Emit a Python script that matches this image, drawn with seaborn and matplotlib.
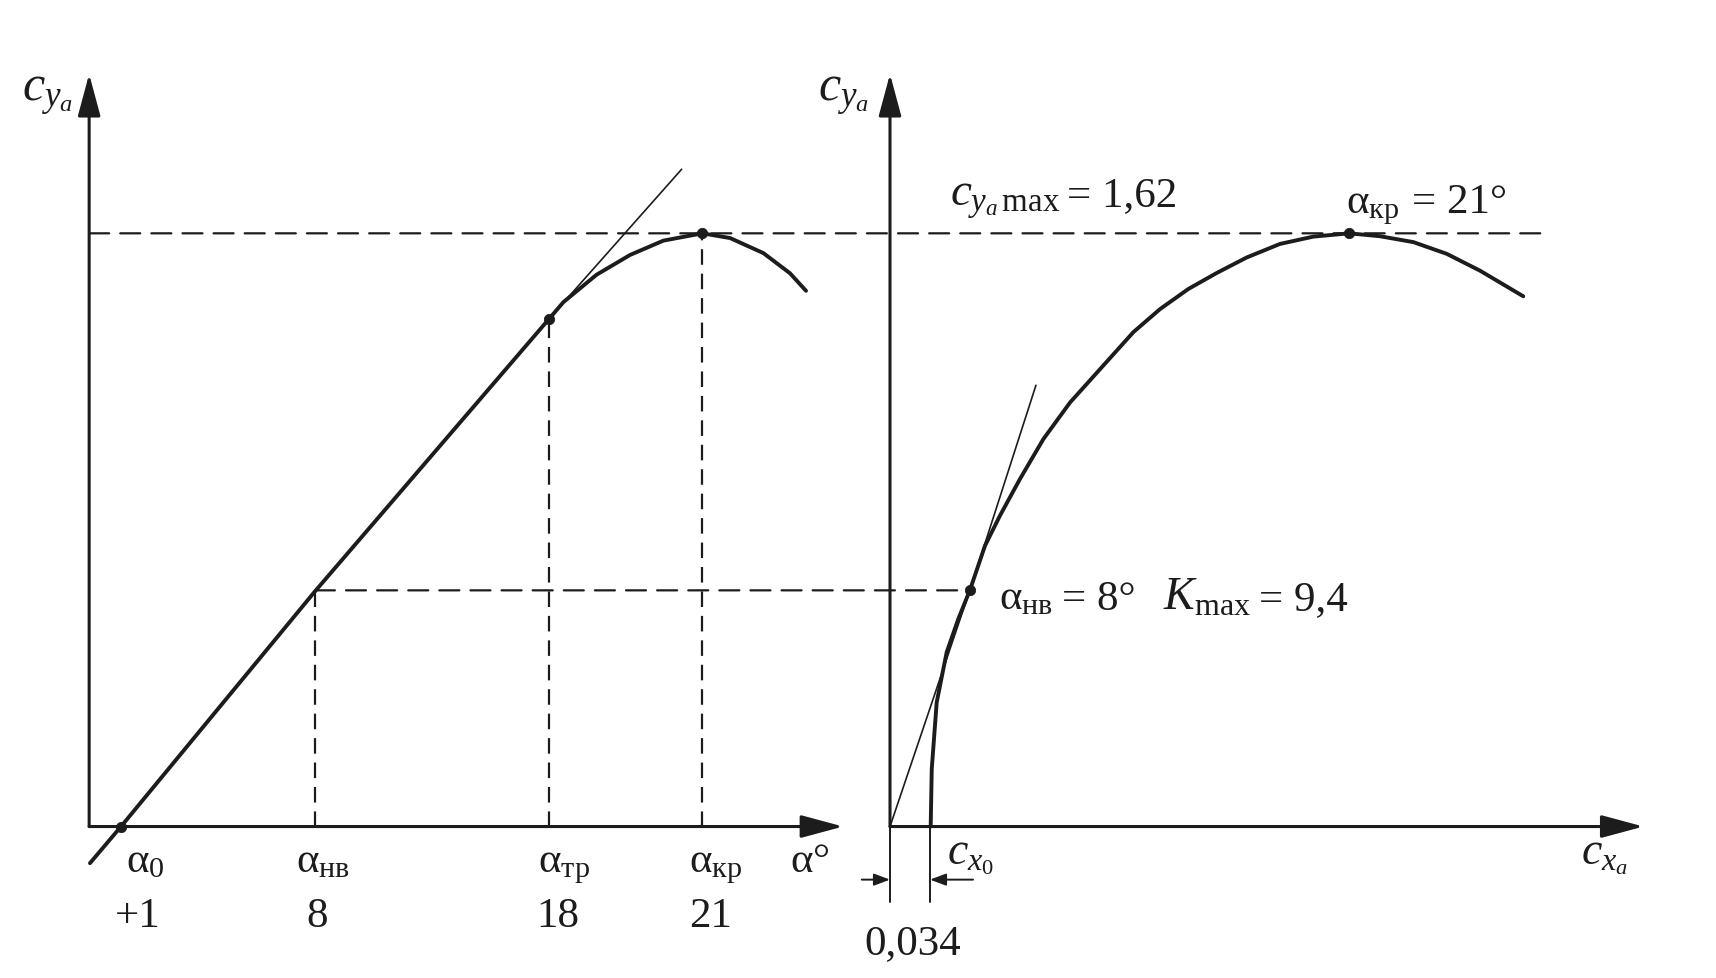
import numpy as np
import seaborn as sns
import matplotlib.pyplot as plt
from matplotlib.patches import ConnectionPatch

# left panel: c_ya(alpha), alpha axis is schematic (positions are drawing units)
alpha_line = [-0.12, 1.0, 8.0, 16.45]
cy_line = [-0.10, 0.0, 0.642, 1.386]
alpha_tan = [16.45, 21.24]
cy_tan = [1.386, 1.795]
alpha_curve = [16.45, 16.97, 18.17, 19.38, 20.58, 21.99, 22.99, 24.19, 25.15, 25.73]
cy_curve = [1.386, 1.432, 1.507, 1.561, 1.600, 1.620, 1.607, 1.566, 1.511, 1.463]
alpha_marks = [1.0, 8.0, 16.45, 21.99]
cy_marks = [0.0, 0.642, 1.386, 1.620]
alpha_names = [r'$\mathrm{α}_{\mathrm{0}}$', r'$\mathrm{α}_{\mathrm{нв}}$',
               r'$\mathrm{α}_{\mathrm{тр}}$', r'$\mathrm{α}_{\mathrm{кр}}$']
alpha_values = ['+1', '8', '18', '21']

# right panel: polar c_ya(c_xa)
cx_polar = [0.0346, 0.0355, 0.0397, 0.0482, 0.0581, 0.068, 0.0808, 0.0935, 0.1105, 0.1304,
            0.1531, 0.1786, 0.2069, 0.2296, 0.2537, 0.278, 0.3033, 0.3316, 0.36, 0.3906,
            0.4167, 0.445, 0.4734, 0.5017, 0.5385]
cy_polar = [0.0, 0.157, 0.339, 0.476, 0.567, 0.646, 0.767, 0.849, 0.949, 1.058,
            1.158, 1.249, 1.350, 1.413, 1.468, 1.512, 1.554, 1.591, 1.611, 1.620,
            1.612, 1.596, 1.564, 1.518, 1.448]
cx_tan = [0.0, 0.068, 0.1241]
cy_tan2 = [0.0, 0.646, 1.205]
cx0 = 0.034
cy_max = 1.62
cx_nv, cy_nv = 0.068, 0.645
cx_kr = 0.3906
K_max = 9.4

sns.set_style('white')
plt.rcParams['font.family'] = ['Liberation Serif', 'DejaVu Serif']
plt.rcParams['mathtext.fontset'] = 'custom'
plt.rcParams['mathtext.rm'] = 'Liberation Serif'
plt.rcParams['mathtext.it'] = 'Liberation Serif:italic'
plt.rcParams['mathtext.bf'] = 'Liberation Serif:bold'

ink = '#1c1c1c'
fs = 31
fc = 36
dash_h = (0, (9, 5))
dash_v = (0, (7, 4))

fig = plt.figure(figsize=(17.16, 9.79), dpi=100)
axL = fig.add_axes([0.014015, 0.0238, 0.50041, 0.9538])
axR = fig.add_axes([0.47753, 0.0238, 0.52084, 0.9538])
axL.set_xlim(-2.5, 28.5)
axR.set_xlim(-0.06, 0.70)
for ax in (axL, axR):
    ax.set_ylim(-0.35, 2.2)
    ax.set_axis_off()
    ax.patch.set_visible(False)

arrow = dict(arrowstyle='-|>,head_length=1.3,head_width=0.35', lw=2.2, color=ink,
             mutation_scale=20, shrinkA=0, shrinkB=0)


def label(ax, x, y, s, size=fs):
    ax.text(x, y, s, fontsize=size, ha='left', va='baseline', color=ink)


# ---- left panel
axL.annotate('', xy=(-0.15, 2.055), xytext=(-0.15, 0), arrowprops=arrow)
axL.annotate('', xy=(27.07, 0), xytext=(-0.15, 0), arrowprops=arrow)

sns.lineplot(x=alpha_line, y=cy_line, ax=axL, color=ink, lw=2.8, sort=False, estimator=None)
sns.lineplot(x=alpha_curve, y=cy_curve, ax=axL, color=ink, lw=2.8, sort=False, estimator=None)
sns.lineplot(x=alpha_tan, y=cy_tan, ax=axL, color=ink, lw=1.2, sort=False, estimator=None)

for a, c in zip(alpha_marks[1:], cy_marks[1:]):
    axL.plot([a, a], [0, c], color=ink, lw=1.6, linestyle=dash_v)

dots = [0, 2, 3]
sns.scatterplot(x=[alpha_marks[i] for i in dots], y=[cy_marks[i] for i in dots], ax=axL,
                color=ink, s=55, edgecolor=ink, zorder=5)

name_x = [1.18, 7.30, 16.07, 21.52]
value_x = [0.78, 7.69, 15.99, 21.52]
for nx, vx, name, val in zip(name_x, value_x, alpha_names, alpha_values):
    label(axL, nx, -0.1215, name)
    label(axL, vx, -0.2716, val)
label(axL, 25.15, -0.1215, r'$\mathrm{α°}$')
label(axL, -2.57, 1.985, r'$c_{y_a}$', fc)

# ---- right panel
axR.annotate('', xy=(0, 2.055), xytext=(0, 0), arrowprops=arrow)
axR.annotate('', xy=(0.6407, 0), xytext=(0, 0), arrowprops=arrow)

sns.lineplot(x=cx_polar, y=cy_polar, ax=axR, color=ink, lw=2.8, sort=False, estimator=None)
sns.lineplot(x=cx_tan, y=cy_tan2, ax=axR, color=ink, lw=1.2, sort=False, estimator=None)
sns.scatterplot(x=[cx_nv, cx_kr], y=[cy_nv, cy_max], ax=axR, color=ink, s=55,
                edgecolor=ink, zorder=5)

# dashed lines that run across both panels
for xa, ya, xb, yb in [(-0.15, cy_max, 0.5536, cy_max), (8.0, cy_nv, cx_nv, cy_nv)]:
    con = ConnectionPatch(xyA=(xa, ya), coordsA=axL.transData, xyB=(xb, yb),
                          coordsB=axR.transData, color=ink, lw=1.6, linestyle=dash_h)
    fig.add_artist(con)

# c_x0 dimension
for xv in (0.0, cx0):
    axR.plot([xv, xv], [0, -0.206], color=ink, lw=1.4)
small = dict(arrowstyle='-|>,head_length=0.8,head_width=0.3', lw=1.4, color=ink,
             mutation_scale=12, shrinkA=0, shrinkB=0)
axR.annotate('', xy=(0, -0.145), xytext=(-0.024, -0.145), arrowprops=small)
axR.annotate('', xy=(cx0, -0.145), xytext=(0.0706, -0.145), arrowprops=small)

label(axR, -0.0612, 1.985, r'$c_{y_a}$', fc)
label(axR, 0.051, 1.698, r'$c_{y_a\,\mathrm{max}}$', 34)
label(axR, 0.1505, 1.698, '= ' + f'{cy_max:.2f}'.replace('.', ','))
label(axR, 0.388, 1.677, r'$\mathrm{α}_{\mathrm{кр}}$')
label(axR, 0.4439, 1.677, '= 21°')
label(axR, 0.0927, 0.595, r'$\mathrm{α}_{\mathrm{нв}}$')
label(axR, 0.1463, 0.595, '= 8°')
label(axR, 0.2321, 0.595, r'$K_{\mathrm{max}}$', 33)
label(axR, 0.3138, 0.595, '= ' + str(K_max).replace('.', ','))
label(axR, 0.0485, -0.101, r'$c_{x_0}$', 33)
label(axR, 0.5876, -0.101, r'$c_{x_a}$', 33)
axR.text(0.0196, -0.346, str(cx0).replace('.', ','), fontsize=fs, ha='center',
         va='baseline', color=ink)

fig.savefig('out.png', dpi=100)
